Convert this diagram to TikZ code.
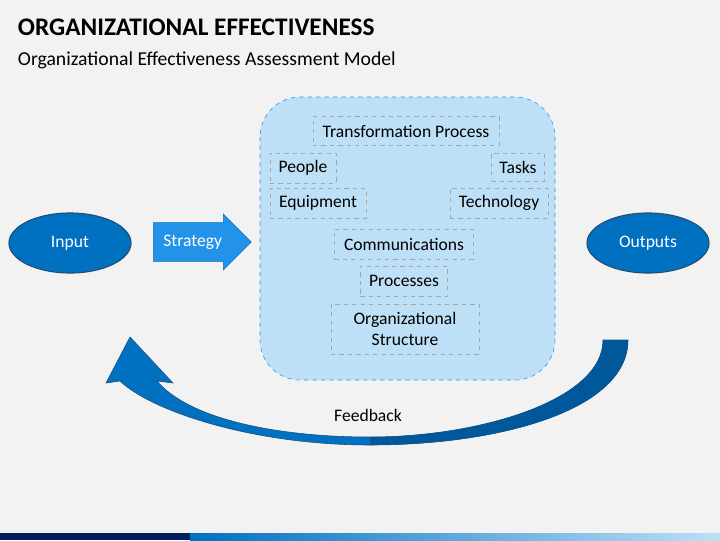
\documentclass[tikz,border=0pt]{standalone}
\usepackage{fontspec}
\setmainfont{Carlito}
\usetikzlibrary{shapes.arrows,shapes.geometric}
\definecolor{bgray}{HTML}{F2F2F2}
\definecolor{panel}{HTML}{BDE0F7}
\definecolor{midblue}{HTML}{0070C0}
\definecolor{deepblue}{HTML}{00589A}
\definecolor{edgeblue}{HTML}{1F4E79}
\definecolor{brightblue}{HTML}{2393EA}
\definecolor{navy}{HTML}{002060}
\begin{document}
\begin{tikzpicture}[x=0.025cm,y=-0.025cm,
  every node/.style={font=\fontsize{12.5}{14.5}\selectfont},
  item/.style={draw=gray!70,dashed,inner sep=0pt,align=center},
  blob/.style={ellipse,draw=edgeblue,thick,fill=midblue,text=white,minimum width=3.05cm,minimum height=1.5cm}]
\useasboundingbox (0,0) rectangle (720,540);
\fill[bgray] (0,0) rectangle (720,540);
\fill[navy] (0,533) rectangle (190,540);
\shade[left color=midblue,right color=panel] (190,533) rectangle (720,540);

\node[anchor=west,font=\fontsize{18}{21}\selectfont\bfseries] (title) at (13,27) {ORGANIZATIONAL EFFECTIVENESS};
\node[anchor=west,font=\fontsize{14}{16}\selectfont] (sub) at (13,60) {Organizational Effectiveness Assessment Model};

\draw[draw=brightblue,dashed,fill=panel,rounded corners=1cm] (260,97) rectangle (555,380);

\node[item,minimum width=4.65cm,minimum height=0.72cm] (trans) at (406,131) {Transformation Process};
\node[item,minimum width=1.65cm,minimum height=0.75cm] (people) at (303,168) {People};
\node[item,minimum width=1.32cm,minimum height=0.7cm] (tasks) at (518,167) {Tasks};
\node[item,minimum width=2.4cm,minimum height=0.75cm] (equip) at (318,203) {Equipment};
\node[item,minimum width=2.45cm,minimum height=0.75cm] (tech) at (499,203) {Technology};
\node[item,minimum width=3.48cm,minimum height=0.75cm] (comm) at (404,244) {Communications};
\node[item,minimum width=2.18cm,minimum height=0.75cm] (proc) at (404,281) {Processes};
\node[item,minimum width=3.7cm,minimum height=1.25cm] (struct) at (405,329) {Organizational\\Structure};

\node[blob] (input) at (70,243) {Input};
\node[blob] (outputs) at (648,243) {Outputs};

\node[single arrow,fill=brightblue,draw=midblue,text=white,minimum height=2.45cm,
  minimum width=1.4cm,single arrow head extend=0.1cm,inner sep=1pt,anchor=west] (strategy) at (153,242) {Strategy\hspace{0.35cm}};

% feedback loop
\fill[midblue,draw=edgeblue] (628,340) .. controls (628,410) and (500,445) .. (370,445)
  .. controls (250,445) and (150,410) .. (120,381) -- (106,383) -- (130,337) -- (173,383) -- (157,381)
  .. controls (190,420) and (280,437) .. (370,437) .. controls (480,437) and (603,400) .. (603,340) -- cycle;
\fill[deepblue] (628,340) .. controls (628,410) and (500,445) .. (370,445) -- (370,437)
  .. controls (480,437) and (603,400) .. (603,340) -- cycle;
\node (fb) at (368,415) {Feedback};
\end{tikzpicture}
\end{document}
